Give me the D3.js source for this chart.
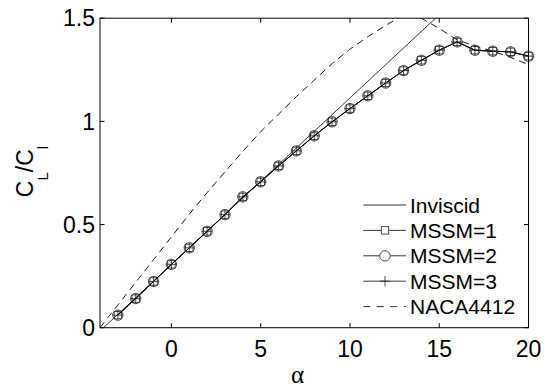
<!DOCTYPE html>
<html>
<head>
<meta charset="utf-8">
<script src="https://cdn.jsdelivr.net/npm/d3@7"></script>
<style>
  html, body { margin: 0; padding: 0; background: #fff; }
  svg { display: block; }
  text { font-family: "Liberation Sans", Arial, Helvetica, sans-serif; fill: #000; }
</style>
</head>
<body>
<svg id="chart" width="551" height="387"></svg>
<script>
// ---- data ----
const alphaMSSM = [-3,-2,-1,0,1,2,3,4,5,6,7,8,9,10,11,12,13,14,15,16,17,18,19,20];
const mssm1 = [0.061,0.141,0.224,0.307,0.387,0.467,0.548,0.634,0.707,0.784,0.857,0.930,0.998,1.062,1.124,1.186,1.246,1.296,1.345,1.385,1.345,1.340,1.337,1.316];
const mssm2 = [0.061,0.141,0.224,0.307,0.387,0.467,0.548,0.634,0.707,0.784,0.857,0.930,0.998,1.062,1.124,1.186,1.246,1.296,1.345,1.385,1.345,1.340,1.337,1.316];
const mssm3 = [0.061,0.141,0.224,0.307,0.387,0.467,0.548,0.634,0.707,0.784,0.857,0.930,0.998,1.062,1.124,1.186,1.246,1.296,1.345,1.385,1.345,1.340,1.337,1.316];
const alphaInviscid = [-3.8, 20];
const inviscid = [0, 1.92];
const alphaNACA = [-4,-3,-2,-1,0,1,2,3,4,5,6,7,8,9,10,11,12,13,14,15,16,17,18,19,20];
const naca4412 = [0,0.11,0.22,0.33,0.44,0.55,0.655,0.755,0.855,0.95,1.035,1.12,1.20,1.28,1.35,1.41,1.465,1.515,1.50,1.45,1.395,1.365,1.34,1.31,1.275];
const xTicks = [0,5,10,15,20];
const yTicks = [0,0.5,1,1.5];
const legendLabels = ["Inviscid","MSSM=1","MSSM=2","MSSM=3","NACA4412"];

// ---- layout ----
const L = 100, R = 528.5, T = 18.2, B = 327.7;
const svg = d3.select("#chart");
const x = d3.scaleLinear().domain([-4, 20]).range([L, R]);
const y = d3.scaleLinear().domain([0, 1.5]).range([B, T]);

svg.append("defs").append("clipPath").attr("id", "clip")
  .append("rect").attr("x", L).attr("y", T).attr("width", R - L).attr("height", B - T);

const line = d3.line().x(d => x(d[0])).y(d => y(d[1]));
const plot = svg.append("g");
const clipped = plot.append("g").attr("clip-path", "url(#clip)");

// NACA dashed
clipped.append("path")
  .datum(alphaNACA.map((a, i) => [a, naca4412[i]]))
  .attr("d", line).attr("fill", "none").attr("stroke", "#000")
  .attr("stroke-width", 0.9).attr("stroke-dasharray", "7,5");

// Inviscid
clipped.append("path")
  .datum(alphaInviscid.map((a, i) => [a, inviscid[i]]))
  .attr("d", line).attr("fill", "none").attr("stroke", "#000").attr("stroke-width", 0.8);

// MSSM lines
[mssm1, mssm2, mssm3].forEach(s => {
  clipped.append("path")
    .datum(alphaMSSM.map((a, i) => [a, s[i]]))
    .attr("d", line).attr("fill", "none").attr("stroke", "#000").attr("stroke-width", 0.8);
});

// markers
const mk = plot.append("g").attr("fill", "none").attr("stroke", "#222").attr("stroke-width", 0.8);
const sq = 7.4, cr = 5.2, pl = 5.2;
alphaMSSM.forEach((a, i) => {
  mk.append("rect").attr("x", x(a) - sq/2).attr("y", y(mssm1[i]) - sq/2).attr("width", sq).attr("height", sq);
  mk.append("circle").attr("cx", x(a)).attr("cy", y(mssm2[i])).attr("r", cr);
  mk.append("path").attr("d", `M${x(a)-pl},${y(mssm3[i])}H${x(a)+pl}M${x(a)},${y(mssm3[i])-pl}V${y(mssm3[i])+pl}`);
});

// frame and ticks
const ax = svg.append("g").attr("stroke", "#000").attr("stroke-width", 1).attr("fill", "none");
ax.append("rect").attr("x", L).attr("y", T).attr("width", R - L).attr("height", B - T);
const tl = 4.5;
xTicks.forEach(t => {
  ax.append("line").attr("x1", x(t)).attr("x2", x(t)).attr("y1", B).attr("y2", B - tl);
  ax.append("line").attr("x1", x(t)).attr("x2", x(t)).attr("y1", T).attr("y2", T + tl);
});
yTicks.forEach(t => {
  ax.append("line").attr("x1", L).attr("x2", L + tl).attr("y1", y(t)).attr("y2", y(t));
  ax.append("line").attr("x1", R).attr("x2", R - tl).attr("y1", y(t)).attr("y2", y(t));
});

// tick labels
const tf = 23;
svg.append("g").selectAll("text").data(xTicks).join("text")
  .attr("x", d => x(d)).attr("y", 357).attr("text-anchor", "middle")
  .attr("font-size", tf).text(d => d);
svg.append("g").selectAll("text").data(yTicks).join("text")
  .attr("x", 95).attr("y", d => y(d) + tf * 0.355).attr("text-anchor", "end")
  .attr("font-size", tf).text(d => d);

// axis labels
svg.append("text").attr("x", 297.5).attr("y", 383).attr("text-anchor", "middle")
  .attr("font-size", 25).style("font-family", "'Liberation Serif', 'Times New Roman', serif")
  .text("α");

const yl = svg.append("text").attr("transform", "translate(33.3,171.5) rotate(-90)")
  .attr("text-anchor", "middle");
yl.append("tspan").attr("font-size", 23).text("C");
yl.append("tspan").attr("font-size", 15).attr("dy", 15).text("L");
yl.append("tspan").attr("font-size", 23).attr("dy", -15).text("/C");
yl.append("tspan").attr("font-size", 15).attr("dy", 15).text("l");

// legend
const lg = svg.append("g");
const ly0 = 205, ldy = 25.4, lx1 = 363.3, lx2 = 406, lxm = 385;
legendLabels.forEach((lab, i) => {
  const yy = ly0 + i * ldy;
  const ln = lg.append("line").attr("x1", lx1).attr("x2", lx2).attr("y1", yy).attr("y2", yy)
    .attr("stroke", "#000").attr("stroke-width", 0.8);
  if (i === 4) ln.attr("stroke-dasharray", "7,6.5");
  if (i === 1) lg.append("rect").attr("x", lxm - sq/2).attr("y", yy - sq/2).attr("width", sq).attr("height", sq)
    .attr("fill", "#fff").attr("stroke", "#222").attr("stroke-width", 0.8);
  if (i === 2) lg.append("circle").attr("cx", lxm).attr("cy", yy).attr("r", cr)
    .attr("fill", "#fff").attr("stroke", "#222").attr("stroke-width", 0.8);
  if (i === 3) lg.append("path").attr("d", `M${lxm-pl},${yy}H${lxm+pl}M${lxm},${yy-pl}V${yy+pl}`)
    .attr("stroke", "#222").attr("stroke-width", 0.8);
  lg.append("text").attr("x", 410).attr("y", yy + 7.5).attr("font-size", 21).text(lab);
});
</script>
</body>
</html>
